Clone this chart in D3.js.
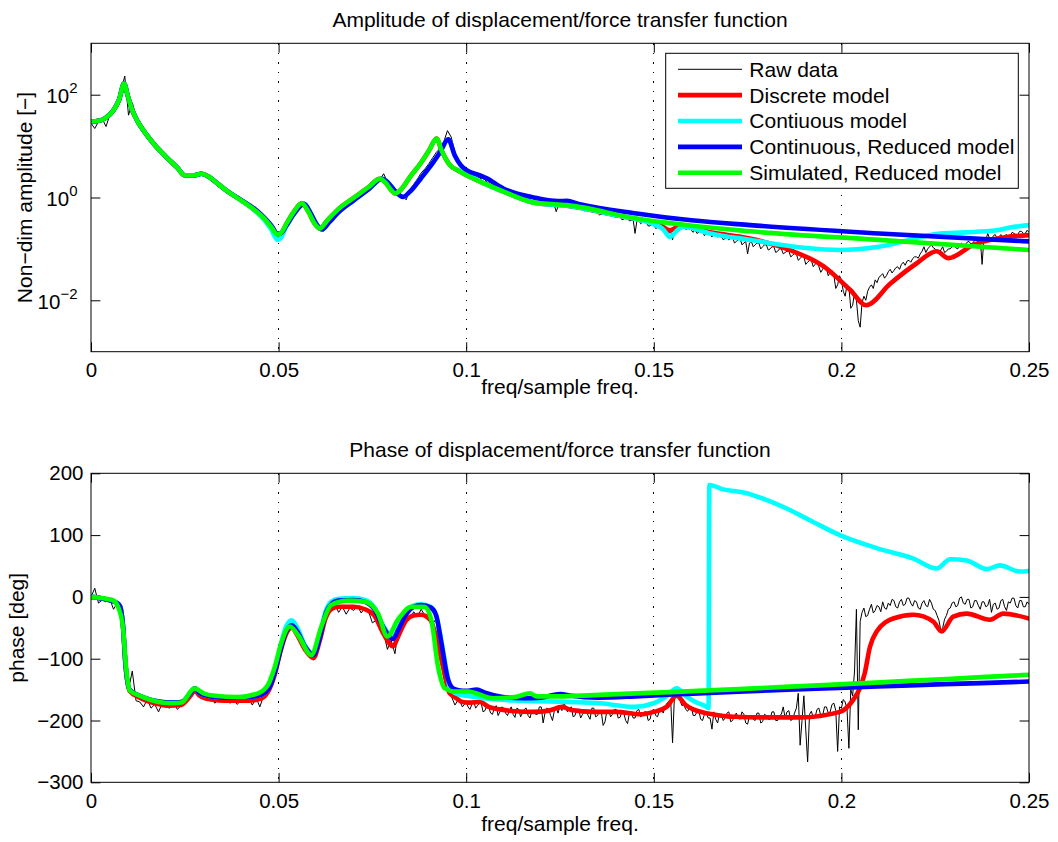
<!DOCTYPE html>
<html><head><meta charset="utf-8">
<script src="https://cdn.jsdelivr.net/npm/d3@7"></script>
<style>
body{margin:0;background:#fff;}
svg{display:block;font-family:"Liberation Sans",Arial,Helvetica,sans-serif;}
</style></head><body>
<svg id="chart" width="1058" height="842"></svg>
<script>
// ---------------- data ----------------
const xTicks = [0, 0.05, 0.1, 0.15, 0.2, 0.25];
const xTickLabels = ["0", "0.05", "0.1", "0.15", "0.2", "0.25"];
const ampTicks = [1e-2, 1, 1e2];
const ampTickExponents = ["\u22122", "0", "2"];
const phaseTicks = [-300, -200, -100, 0, 100, 200];
const phaseTickLabels = ["\u2212300", "\u2212200", "\u2212100", "0", "100", "200"];
const seriesNames = ["Raw data", "Discrete model", "Contiuous model", "Continuous, Reduced model", "Simulated, Reduced model"];
const seriesColors = ["#000000", "#ff0000", "#00ffff", "#0000ff", "#00ff00"];
const titles = ["Amplitude of displacement/force transfer function", "Phase of displacement/force transfer function"];
const xLabel = "freq/sample freq.";
const yLabels = ["Non\u2212dim amplitude [\u2212]", "phase [deg]"];

// raw data: sampled every 0.001 below 0.1, every 0.0005 from 0.1 to 0.25
const rawFreq = [...d3.range(0, 100).map(i => i / 1000), ...d3.range(0, 301).map(i => 0.1 + i / 2000)];
const rawAmp = [
  28, 22, 30, 34, 24, 40, 48, 75, 120, 230,
  40, 70, 38, 28, 22, 16, 12, 10.5, 8.5, 7.5,
  6.3, 5.4, 4.6, 3.9, 3.3, 2.75, 2.6, 2.75, 2.6, 3.0,
  2.6, 2.5, 2.2, 2.0, 1.8, 1.55, 1.4, 1.25, 1.1, 1.0,
  0.88, 0.8, 0.7, 0.6, 0.54, 0.45, 0.38, 0.3, 0.24, 0.19,
  0.17, 0.25, 0.31, 0.45, 0.55, 0.7, 0.85, 0.75, 0.55, 0.38,
  0.28, 0.25, 0.22, 0.33, 0.4, 0.5, 0.58, 0.68, 0.75, 0.85,
  0.95, 1.05, 1.15, 1.35, 1.45, 1.7, 1.9, 2.2, 2.9, 2.0,
  1.6, 1.3, 1.05, 1.1, 0.9, 1.4, 1.8, 2.3, 3.0, 3.6,
  4.5, 5.8, 7.5, 9, 12, 20, 15, 7.5, 4.5, 3.8,
  // 0.1000 .. 0.2500 step 0.0005
  3.2, 3.0, 2.9, 3.0, 2.8, 2.6, 2.5, 2.45, 2.3, 2.35,
  2.2, 2.0, 1.9, 1.95, 1.8, 1.65, 1.5, 1.6, 1.55, 1.4,
  1.35, 1.38, 1.3, 1.22, 1.2, 1.15, 0.95, 1.1, 1.1, 1.0,
  0.95, 0.98, 0.9, 0.93, 0.95, 0.86, 0.8, 0.84, 0.85, 0.8,
  0.78, 0.77, 0.8, 0.74, 0.72, 0.73, 0.68, 0.7, 0.53, 0.68,
  0.72, 0.69, 0.7, 0.72, 0.66, 0.65, 0.62, 0.64, 0.65, 0.6,
  0.6, 0.61, 0.58, 0.55, 0.56, 0.57, 0.58, 0.52, 0.52, 0.53,
  0.5, 0.46, 0.47, 0.49, 0.5, 0.45, 0.45, 0.46, 0.47, 0.42,
  0.42, 0.41, 0.43, 0.37, 0.38, 0.4, 0.4, 0.35, 0.36, 0.37,
  0.2, 0.35, 0.36, 0.31, 0.33, 0.34, 0.32, 0.28, 0.28, 0.3,
  0.3, 0.25, 0.26, 0.27, 0.24, 0.26, 0.25, 0.22, 0.2, 0.22,
  0.15, 0.24, 0.28, 0.27, 0.3, 0.26, 0.27, 0.24, 0.25, 0.26,
  0.23, 0.21, 0.24, 0.2, 0.21, 0.23, 0.22, 0.18, 0.2, 0.21,
  0.19, 0.17, 0.2, 0.18, 0.17, 0.19, 0.18, 0.15, 0.16, 0.17,
  0.15, 0.16, 0.17, 0.13, 0.14, 0.15, 0.16, 0.12, 0.13, 0.14,
  0.08, 0.13, 0.14, 0.11, 0.12, 0.13, 0.13, 0.1, 0.11, 0.12,
  0.12, 0.095, 0.1, 0.11, 0.11, 0.085, 0.09, 0.1, 0.1, 0.08,
  0.085, 0.09, 0.09, 0.07, 0.075, 0.082, 0.08, 0.06, 0.065, 0.072,
  0.07, 0.05, 0.055, 0.06, 0.06, 0.045, 0.05, 0.055, 0.045, 0.035,
  0.04, 0.046, 0.042, 0.03, 0.035, 0.038, 0.03, 0.017, 0.02, 0.03,
  0.025, 0.015, 0.012, 0.02, 0.018, 0.007, 0.008, 0.014, 0.01, 0.004,
  0.003, 0.009, 0.012, 0.01, 0.015, 0.018, 0.02, 0.017, 0.025, 0.022,
  0.028, 0.03, 0.033, 0.027, 0.03, 0.036, 0.04, 0.034, 0.038, 0.043,
  0.045, 0.04, 0.05, 0.055, 0.048, 0.058, 0.06, 0.055, 0.065, 0.07,
  0.07, 0.066, 0.08, 0.09, 0.11, 0.085, 0.1, 0.11, 0.12, 0.105,
  0.1, 0.09, 0.08, 0.095, 0.11, 0.085, 0.09, 0.1, 0.1, 0.11,
  0.12, 0.105, 0.1, 0.12, 0.13, 0.115, 0.12, 0.135, 0.14, 0.125,
  0.13, 0.145, 0.15, 0.13, 0.16, 0.05, 0.17, 0.15, 0.2, 0.16,
  0.15, 0.18, 0.19, 0.16, 0.17, 0.19, 0.16, 0.18, 0.19, 0.17,
  0.18, 0.21, 0.2, 0.19, 0.19, 0.22, 0.22, 0.2, 0.2, 0.23,
  0.21
];
const rawPhase = [
  0, 14, -10, -5, -8, -3, -20, -10, -30, -95,
  -150, -120, -168, -170, -178, -166, -180, -174, -186, -172,
  -178, -180, -170, -182, -176, -172, -165, -150, -145, -160,
  -165, -168, -163, -172, -166, -170, -164, -172, -168, -174,
  -166, -170, -165, -175, -163, -178, -160, -155, -138, -118,
  -95, -75, -58, -48, -42, -62, -70, -80, -92, -98,
  -88, -60, -45, -24, -20, -12, -25, -16, -28, -18,
  -22, -14, -26, -18, -24, -42, -38, -52, -58, -85,
  -70, -92, -50, -40, -28, -36, -24, -32, -20, -30,
  -26, -45, -35, -90, -130, -150, -160, -175, -165, -178,
  // 0.1000 .. 0.2500 step 0.0005
  -170, -178, -182, -174, -168, -180, -176, -172, -172, -186,
  -184, -176, -178, -188, -190, -180, -176, -192, -186, -178,
  -180, -188, -192, -184, -178, -190, -195, -180, -182, -194,
  -188, -182, -180, -192, -196, -184, -184, -190, -190, -178,
  -178, -204, -188, -180, -182, -192, -200, -184, -180, -188,
  -176, -184, -170, -178, -186, -180, -178, -194, -192, -182,
  -182, -196, -190, -184, -184, -192, -198, -180, -180, -194,
  -192, -186, -186, -208, -202, -184, -184, -194, -190, -182,
  -182, -196, -195, -186, -188, -200, -205, -188, -186, -196,
  -196, -184, -182, -194, -192, -186, -186, -200, -198, -184,
  -182, -192, -194, -184, -180, -188, -178, -172, -170, -166,
  -236, -160, -158, -164, -168, -176, -174, -182, -185, -180,
  -178, -192, -192, -186, -184, -198, -200, -190, -188, -196,
  -196, -214, -186, -198, -204, -190, -190, -200, -196, -188,
  -186, -202, -200, -192, -188, -196, -198, -186, -190, -204,
  -206, -192, -192, -198, -200, -188, -188, -204, -202, -190,
  -192, -198, -198, -186, -186, -200, -200, -192, -190, -178,
  -196, -186, -184, -200, -198, -188, -180, -156, -240, -200,
  -160, -215, -267, -190, -185, -196, -194, -182, -180, -192,
  -192, -178, -178, -188, -186, -174, -172, -184, -250, -178,
  -180, -166, -170, -182, -245, -150, -160, -120, -20, -215,
  -40, -25, -18, -32, -30, -20, -12, -26, -22, -14,
  -16, -24, -8, -18, -20, -10, -14, -4, -6, -16,
  -18, -8, -4, -14, -12, -2, -2, -10, -15, -6,
  -8, -18, -20, -10, -6, -14, -16, -4, -10, -20,
  -22, -30, -38, -54, -50, -36, -30, -20, -18, -10,
  -8, -16, -14, -2, 0, -10, -12, -4, -4, -18,
  -16, -6, -6, -14, -20, -8, -8, -16, -14, -4,
  -25, -12, -10, -20, -18, -6, -4, -16, -22, -8,
  -10, -2, -2, -14, -18, -6, -6, -16, -16, -8,
  -12
];

// model curves: [freq, value]
const discreteAmp = [[0,30],[0.002,31],[0.004,36],[0.006,50],[0.0075,80],[0.0088,165],[0.0098,95],[0.011,50],[0.0125,29.5],[0.015,16],[0.017,10.5],[0.02,6.2],[0.023,3.8],[0.025,2.7],[0.0275,2.7],[0.0294,2.9],[0.0315,2.5],[0.034,1.8],[0.0365,1.3],[0.04,0.88],[0.0436,0.57],[0.046,0.4],[0.048,0.27],[0.0497,0.18],[0.0505,0.19],[0.052,0.3],[0.054,0.52],[0.0562,0.77],[0.058,0.52],[0.0595,0.32],[0.061,0.25],[0.063,0.36],[0.066,0.6],[0.07,0.98],[0.074,1.6],[0.077,2.3],[0.0785,1.95],[0.08,1.4],[0.081,1.2],[0.0825,1.4],[0.085,2.5],[0.088,4.8],[0.09,8],[0.0921,14],[0.0935,8],[0.0955,4.4],[0.0983,3.2],[0.101,2.5],[0.104,2.0],[0.11,1.3],[0.1188,0.77],[0.1268,0.69],[0.14,0.45],[0.149,0.33],[0.152,0.28],[0.1543,0.23],[0.157,0.28],[0.165,0.21],[0.1756,0.16],[0.1863,0.095],[0.1952,0.046],[0.2023,0.016],[0.2066,0.008],[0.213,0.021],[0.22,0.052],[0.2254,0.09],[0.2285,0.066],[0.2352,0.12],[0.244,0.17],[0.25,0.185]];
const contAmp = [[0,30],[0.002,31],[0.004,36],[0.006,50],[0.0075,80],[0.0088,165],[0.0098,95],[0.011,50],[0.0125,29.5],[0.015,16],[0.017,10.5],[0.02,6.2],[0.023,3.8],[0.025,2.7],[0.0275,2.7],[0.0294,2.9],[0.0315,2.5],[0.034,1.8],[0.0365,1.3],[0.04,0.88],[0.0436,0.56],[0.046,0.38],[0.048,0.24],[0.0497,0.15],[0.0505,0.16],[0.052,0.27],[0.054,0.47],[0.0568,0.75],[0.0585,0.5],[0.06,0.31],[0.0615,0.24],[0.0635,0.33],[0.066,0.52],[0.07,0.88],[0.074,1.45],[0.0775,2.3],[0.079,2.0],[0.081,1.35],[0.0832,1.03],[0.085,1.3],[0.088,2.4],[0.091,4.6],[0.093,7.5],[0.0952,13.5],[0.097,6.5],[0.0985,4.2],[0.1001,3.1],[0.104,2.0],[0.11,1.3],[0.1188,0.77],[0.1268,0.69],[0.14,0.45],[0.149,0.32],[0.1525,0.24],[0.1543,0.17],[0.1565,0.24],[0.158,0.27],[0.165,0.2],[0.1756,0.15],[0.19,0.105],[0.1996,0.095],[0.21,0.11],[0.2263,0.2],[0.233,0.21],[0.2414,0.23],[0.245,0.26],[0.25,0.29]];
const contRedAmp = [[0,30],[0.002,31],[0.004,36],[0.006,50],[0.0075,80],[0.0088,165],[0.0098,95],[0.011,50],[0.0125,29.5],[0.015,16],[0.017,10.5],[0.02,6.2],[0.023,3.8],[0.025,2.7],[0.0275,2.7],[0.0294,2.9],[0.0315,2.5],[0.034,1.8],[0.0365,1.3],[0.04,0.9],[0.0436,0.6],[0.046,0.42],[0.048,0.29],[0.0497,0.2],[0.0505,0.2],[0.052,0.28],[0.054,0.47],[0.0568,0.75],[0.0585,0.5],[0.06,0.31],[0.0615,0.24],[0.0635,0.33],[0.066,0.52],[0.07,0.88],[0.074,1.45],[0.0775,2.3],[0.079,2.0],[0.081,1.35],[0.0832,1.03],[0.085,1.3],[0.088,2.4],[0.091,4.6],[0.093,7.5],[0.0952,13.5],[0.097,6.5],[0.0985,4.3],[0.1001,3.4],[0.1037,2.7],[0.1055,2.35],[0.1099,1.5],[0.118,1.0],[0.1245,0.85],[0.1268,0.86],[0.13,0.75],[0.1454,0.49],[0.16,0.36],[0.1756,0.29],[0.21,0.2],[0.25,0.14]];
const simRedAmp = [[0,30],[0.002,31],[0.004,36],[0.006,50],[0.0075,80],[0.0088,165],[0.0098,95],[0.011,50],[0.0125,29.5],[0.015,16],[0.017,10.5],[0.02,6.2],[0.023,3.8],[0.025,2.7],[0.0275,2.7],[0.0294,2.9],[0.0315,2.5],[0.034,1.8],[0.0365,1.3],[0.04,0.88],[0.0436,0.57],[0.046,0.4],[0.048,0.27],[0.0497,0.19],[0.0505,0.2],[0.052,0.3],[0.054,0.52],[0.0562,0.77],[0.058,0.52],[0.0595,0.32],[0.061,0.25],[0.063,0.36],[0.066,0.6],[0.07,0.98],[0.074,1.6],[0.077,2.3],[0.0785,1.95],[0.08,1.4],[0.081,1.2],[0.0825,1.4],[0.085,2.5],[0.088,4.8],[0.09,8],[0.0921,14],[0.0935,8],[0.0955,4.4],[0.0983,3.2],[0.101,2.5],[0.104,2.0],[0.11,1.3],[0.1188,0.78],[0.1205,0.76],[0.1268,0.71],[0.1454,0.39],[0.1756,0.22],[0.21,0.15],[0.25,0.095]];

const discretePhase = [[0,0],[0.004,-4],[0.007,-10],[0.0078,-16],[0.0085,-45],[0.0092,-110],[0.0103,-152],[0.013,-163],[0.017,-172],[0.021,-176],[0.024,-175],[0.0265,-160],[0.0276,-152],[0.029,-160],[0.032,-166],[0.036,-168],[0.042,-168],[0.0455,-164],[0.0475,-150],[0.049,-125],[0.0505,-88],[0.052,-60],[0.0535,-50],[0.055,-62],[0.057,-85],[0.0593,-99],[0.061,-70],[0.0625,-35],[0.064,-20],[0.066,-16],[0.07,-16],[0.073,-20],[0.0755,-30],[0.078,-60],[0.0805,-80],[0.082,-62],[0.084,-38],[0.086,-30],[0.088,-29],[0.0905,-38],[0.092,-65],[0.094,-118],[0.0955,-155],[0.097,-162],[0.099,-170],[0.101,-171],[0.1037,-170],[0.106,-178],[0.109,-182],[0.113,-185],[0.1179,-186],[0.122,-184],[0.1255,-178],[0.128,-183],[0.134,-186],[0.1401,-186],[0.1463,-190],[0.15,-186],[0.1534,-178],[0.1561,-160],[0.1585,-175],[0.1605,-182],[0.1668,-191],[0.1712,-194],[0.18,-195],[0.189,-195],[0.1996,-186],[0.2031,-167],[0.2049,-148],[0.2062,-124],[0.2076,-81],[0.2094,-56],[0.2138,-35],[0.2192,-29],[0.2245,-40],[0.2267,-56],[0.2298,-32],[0.2334,-27],[0.2396,-37],[0.2431,-27],[0.25,-35]];
const contPhase = [[0,0],[0.004,-4],[0.007,-10],[0.0078,-16],[0.0085,-45],[0.0092,-110],[0.0103,-150],[0.013,-160],[0.017,-168],[0.021,-171],[0.024,-170],[0.0265,-156],[0.0276,-148],[0.029,-156],[0.032,-161],[0.036,-163],[0.042,-162],[0.0455,-158],[0.0475,-145],[0.049,-118],[0.0505,-80],[0.052,-48],[0.0535,-38],[0.055,-50],[0.057,-78],[0.0593,-92],[0.061,-62],[0.0625,-24],[0.064,-8],[0.066,-3],[0.07,-2],[0.073,-5],[0.0755,-17],[0.078,-48],[0.0805,-65],[0.082,-50],[0.084,-26],[0.086,-14],[0.088,-12],[0.0905,-16],[0.092,-30],[0.0934,-72],[0.095,-128],[0.0957,-148],[0.098,-158],[0.1,-160],[0.1046,-164],[0.115,-168],[0.1268,-170],[0.1357,-172],[0.1446,-178],[0.15,-172],[0.1535,-160],[0.1561,-148],[0.1585,-160],[0.1605,-168],[0.1641,-178],[0.1646,-180],[0.1648,181],[0.1685,174],[0.1739,169],[0.18,157],[0.1854,143],[0.1916,124],[0.1996,100],[0.2094,79],[0.2192,62],[0.2254,46],[0.229,61],[0.2334,59],[0.2388,45],[0.2422,51],[0.2476,41],[0.25,42]];
const contRedPhase = [[0,0],[0.004,-4],[0.007,-10],[0.0078,-16],[0.0085,-45],[0.0092,-110],[0.0103,-150],[0.013,-160],[0.017,-168],[0.021,-171],[0.024,-170],[0.0265,-156],[0.0276,-148],[0.029,-156],[0.032,-161],[0.036,-163],[0.042,-162],[0.0455,-158],[0.0475,-147],[0.049,-122],[0.0505,-86],[0.052,-56],[0.0535,-46],[0.055,-56],[0.057,-80],[0.0593,-94],[0.061,-66],[0.0625,-28],[0.064,-12],[0.066,-6],[0.07,-5],[0.073,-8],[0.0755,-20],[0.078,-50],[0.0805,-68],[0.082,-52],[0.084,-28],[0.086,-16],[0.088,-13],[0.0905,-17],[0.092,-30],[0.0934,-75],[0.095,-130],[0.0965,-148],[0.098,-151],[0.1,-152],[0.1028,-150],[0.105,-155],[0.109,-161],[0.115,-164],[0.12,-163],[0.125,-157],[0.128,-160],[0.135,-163],[0.145,-161],[0.155,-158],[0.25,-137]];
const simRedPhase = [[0,0],[0.004,-3],[0.006,-6],[0.0072,-16],[0.0085,-48],[0.0094,-118],[0.0103,-151],[0.0134,-161],[0.0214,-172],[0.0241,-171],[0.0276,-148],[0.03,-156],[0.033,-160],[0.0392,-162],[0.0445,-156],[0.0472,-142],[0.049,-113],[0.0507,-75],[0.053,-48],[0.0552,-62],[0.0587,-94],[0.0614,-48],[0.064,-13],[0.0685,-6],[0.073,-8],[0.0765,-27],[0.079,-64],[0.0818,-37],[0.0854,-16],[0.0889,-16],[0.0907,-37],[0.0925,-113],[0.0943,-148],[0.0969,-153],[0.1005,-153],[0.1072,-164],[0.113,-162],[0.117,-156],[0.1188,-161],[0.125,-161],[0.134,-159],[0.25,-126]];

// ---------------- drawing ----------------
const W = 1058, H = 842;
const svg = d3.select("#chart");
svg.append("rect").attr("width", W).attr("height", H).attr("fill", "#fff");

const L = 91, R = 1029;
const TICK = 9.4;
const FS_TICK = 20.5, FS_LABEL = 21;
const boxes = [{y0: 43.3, y1: 351.7, xlab: 42.5}, {y0: 473.3, y1: 782.3, xlab: 49}];

const x = d3.scaleLinear().domain([0, 0.25]).range([L, R]);
const yAmp = d3.scaleLog().domain([1e-3, 1e3]).range([boxes[0].y1, boxes[0].y0]);
const yPh = d3.scaleLinear().domain([-300, 200]).range([boxes[1].y1, boxes[1].y0]);

const defs = svg.append("defs");
boxes.forEach((b, i) => {
  defs.append("clipPath").attr("id", "clip" + i)
    .append("rect").attr("x", L).attr("y", b.y0).attr("width", R - L).attr("height", b.y1 - b.y0);
});

function styleAxis(g) {
  g.select(".domain").remove();
  g.selectAll(".tick line").attr("stroke", "#000").attr("stroke-width", 1);
  g.selectAll(".tick text").attr("fill", "#000").attr("font-size", FS_TICK)
    .attr("font-family", "'Liberation Sans', Arial, Helvetica, sans-serif");
}

function drawPanel(idx, yScale, ySeries, rawVals) {
  const b = boxes[idx];
  const g = svg.append("g");

  // grid (dotted, at inner x ticks)
  g.append("g").selectAll("line").data(xTicks.slice(1, -1)).join("line")
    .attr("x1", d => x(d)).attr("x2", d => x(d))
    .attr("y1", b.y0).attr("y2", b.y1)
    .attr("stroke", "#000").attr("stroke-width", 1)
    .attr("stroke-dasharray", "1.2,8.3").attr("shape-rendering", "crispEdges");

  // x axes bottom/top
  const gxb = g.append("g").attr("transform", `translate(0,${b.y1})`)
    .call(d3.axisBottom(x).tickValues(xTicks).tickFormat((d, i) => xTickLabels[i]).tickSize(-TICK).tickSizeOuter(0).tickPadding(10.8));
  styleAxis(gxb);
  const gxt = g.append("g").attr("transform", `translate(0,${b.y0})`)
    .call(d3.axisTop(x).tickValues(xTicks).tickFormat("").tickSize(-TICK).tickSizeOuter(0));
  styleAxis(gxt);

  // y axes left/right
  let gyl;
  if (idx === 0) {
    gyl = g.append("g").attr("transform", `translate(${L},0)`)
      .call(d3.axisLeft(yScale).tickValues(ampTicks).tickFormat(() => "").tickSize(-TICK).tickSizeOuter(0).tickPadding(13.5));
    styleAxis(gyl);
    gyl.selectAll(".tick text").attr("dy", "0.4em").each(function(d, i) {
      const t = d3.select(this);
      t.append("tspan").text("10");
      t.append("tspan").attr("dy", -10).attr("font-size", 15).text(ampTickExponents[i]);
    });
  } else {
    gyl = g.append("g").attr("transform", `translate(${L},0)`)
      .call(d3.axisLeft(yScale).tickValues(phaseTicks).tickFormat((d, i) => phaseTickLabels[i]).tickSize(-TICK).tickSizeOuter(0).tickPadding(7.5));
    styleAxis(gyl);
  }
  const gyr = g.append("g").attr("transform", `translate(${R},0)`)
    .call(d3.axisRight(yScale).tickValues(idx === 0 ? ampTicks : phaseTicks).tickFormat("").tickSize(-TICK).tickSizeOuter(0));
  styleAxis(gyr);

  // data lines
  const plot = g.append("g").attr("clip-path", `url(#clip${idx})`);
  const rawLine = d3.line().x((d, i) => x(rawFreq[i])).y(d => yScale(d));
  plot.append("path").datum(rawVals).attr("d", rawLine)
    .attr("fill", "none").attr("stroke", seriesColors[0]).attr("stroke-width", 1).attr("stroke-linejoin", "miter");
  const modelLine = d3.line().x(d => x(d[0])).y(d => yScale(d[1])).curve(d3.curveMonotoneX);
  ySeries.forEach((s, i) => {
    plot.append("path").datum(s).attr("d", modelLine)
      .attr("fill", "none").attr("stroke", seriesColors[i + 1]).attr("stroke-width", 4.6)
      .attr("stroke-linejoin", "round").attr("stroke-linecap", "round");
  });

  // box
  g.append("rect").attr("x", L).attr("y", b.y0).attr("width", R - L).attr("height", b.y1 - b.y0)
    .attr("fill", "none").attr("stroke", "#000").attr("stroke-width", 1);

  // title & labels
  g.append("text").attr("x", (L + R) / 2).attr("y", b.y0 - 16.5).attr("text-anchor", "middle")
    .attr("font-size", FS_LABEL).text(titles[idx]);
  g.append("text").attr("x", (L + R) / 2).attr("y", b.y1 + b.xlab).attr("text-anchor", "middle")
    .attr("font-size", FS_LABEL).text(xLabel);
  const ylx = idx === 0 ? 31.5 : 23.5;
  g.append("text").attr("transform", `translate(${ylx},${(b.y0 + b.y1) / 2}) rotate(-90)`)
    .attr("text-anchor", "middle").attr("font-size", FS_LABEL).text(yLabels[idx]);
}

drawPanel(0, yAmp, [discreteAmp, contAmp, contRedAmp, simRedAmp], rawAmp);
drawPanel(1, yPh, [discretePhase, contPhase, contRedPhase, simRedPhase], rawPhase);

// legend
const lg = svg.append("g");
const lx0 = 665.7, ly0 = 53.3, lw = 352.6, lh = 135;
lg.append("rect").attr("x", lx0).attr("y", ly0).attr("width", lw).attr("height", lh)
  .attr("fill", "#fff").attr("stroke", "#000").attr("stroke-width", 1);
const rowY = i => 69.3 + i * 25.85;
lg.selectAll("line.leg").data(seriesNames).join("line").attr("class", "leg")
  .attr("x1", 678).attr("x2", 742).attr("y1", (d, i) => rowY(i)).attr("y2", (d, i) => rowY(i))
  .attr("stroke", (d, i) => seriesColors[i]).attr("stroke-width", (d, i) => i === 0 ? 1 : 4.6);
lg.selectAll("text.leg").data(seriesNames).join("text").attr("class", "leg")
  .attr("x", 749.3).attr("y", (d, i) => rowY(i) + 7.4).attr("font-size", FS_LABEL).text(d => d);
</script>
</body></html>
